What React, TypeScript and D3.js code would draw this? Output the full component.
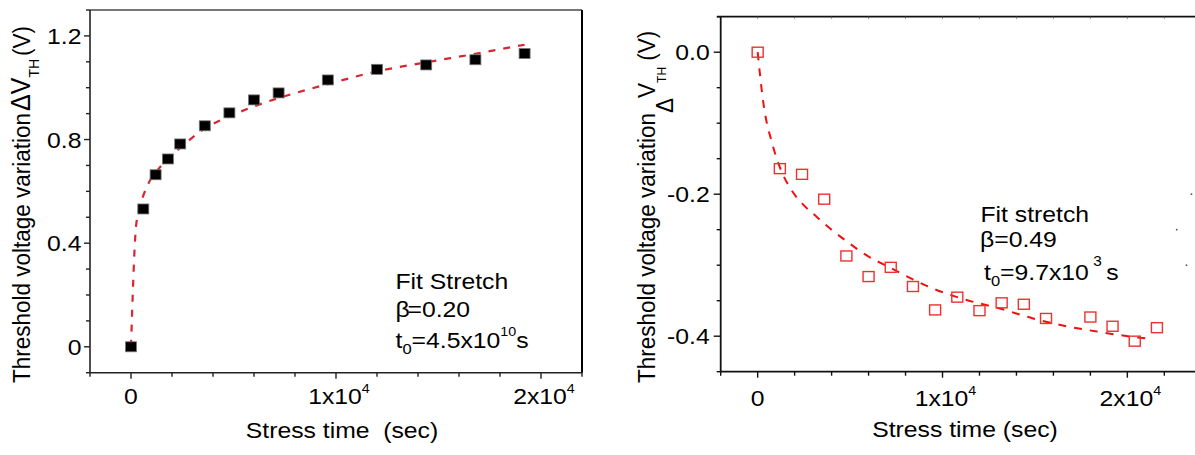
import React from 'react';
import * as d3 from 'd3';

const W = 1195;
const H = 455;
const FONT = '"Liberation Sans", Arial, Helvetica, sans-serif';
const SX = 1.1;
const INK = '#000';

// ---------- Left panel data ----------
const leftTimes = [0, 600, 1200, 1800, 2400, 3600, 4800, 6000, 7200, 9600, 12000, 14400, 16800, 19200];
const leftValues = [0, 0.532, 0.664, 0.725, 0.783, 0.853, 0.903, 0.953, 0.98, 1.03, 1.071, 1.088, 1.108, 1.132];
const leftFitTimes = [0, 240, 400, 650, 900, 1200, 1800, 2400, 3600, 4800, 6000, 7200, 9600, 12000, 14400, 16800, 19200];
const leftFitValues = [0, 0.46, 0.53, 0.594, 0.638, 0.672, 0.727, 0.768, 0.843, 0.889, 0.928, 0.96, 1.014, 1.063, 1.098, 1.131, 1.166];
const leftXTicks = [-2000, 0, 2000, 4000, 6000, 8000, 10000, 12000, 14000, 16000, 18000, 20000, 22000];
const leftXLabelValues = [0, 10000, 20000];
const leftXLabelMantissa = ['0', '1x10', '2x10'];
const leftXLabelExponent = ['', '4', '4'];
const leftYTicks = [-0.1, 0, 0.1, 0.2, 0.3, 0.4, 0.5, 0.6, 0.7, 0.8, 0.9, 1.0, 1.1, 1.2, 1.3];
const leftYLabelValues = [0, 0.4, 0.8, 1.2];
const leftYLabels = ['0', '0.4', '0.8', '1.2'];

// ---------- Right panel data ----------
const rightTimes = [0, 1200, 2400, 3600, 4800, 6000, 7200, 8400, 9600, 10800, 12000, 13200, 14400, 15600, 18000, 19200, 20400, 21600];
const rightValues = [0, -0.164, -0.172, -0.207, -0.287, -0.316, -0.303, -0.33, -0.363, -0.345, -0.364, -0.353, -0.355, -0.375, -0.373, -0.386, -0.407, -0.388];
const rightFitTimes = [0, 300, 800, 1200, 1900, 2400, 3200, 3900, 4900, 5700, 7200, 9500, 11300, 13100, 14900, 16700, 18500, 20300, 21400];
const rightFitValues = [0, -0.07, -0.13, -0.162, -0.197, -0.213, -0.232, -0.248, -0.268, -0.283, -0.304, -0.333, -0.349, -0.361, -0.375, -0.386, -0.394, -0.401, -0.404];
const rightXTicks = [-2000, 0, 2000, 4000, 6000, 8000, 10000, 12000, 14000, 16000, 18000, 20000, 22000];
const rightXLabelValues = [0, 10000, 20000];
const rightXLabelMantissa = ['0', '1x10', '2x10'];
const rightXLabelExponent = ['', '4', '4'];
const rightYTicks = [-0.45, -0.4, -0.35, -0.3, -0.25, -0.2, -0.15, -0.1, -0.05, 0, 0.05];
const rightYLabelValues = [0, -0.2, -0.4];
const rightYLabels = ['0.0', '-0.2', '-0.4'];
const strayTickValues = [-0.2, -0.25, -0.3];
const strayTickTimes = [23470, 22670, 23200];

// ---------- scales ----------
const xL = d3.scaleLinear().domain([-2000, 22000]).range([90, 582]);
const yL = d3.scaleLinear().domain([-0.1, 1.3]).range([372.7, 10]);
const xR = d3.scaleLinear().domain([-2000, 23660]).range([720.7, 1195]);
const yR = d3.scaleLinear().domain([-0.45, 0.05]).range([371.7, 16.7]);

const T = ({ x, y, anchor = 'start', size = 22.5, children, rotate = false }: any) => (
  <g transform={`translate(${x},${y}) scale(${SX},1)${rotate ? ' rotate(-90)' : ''}`}>
    <text x={0} y={0} textAnchor={anchor} fontSize={size} fontFamily={FONT} fill={INK}>
      {children}
    </text>
  </g>
);

export default function App() {
  const leftFitPath = d3
    .line<number>()
    .x((d) => xL(d))
    .y((_, i) => yL(leftFitValues[i]))
    .curve(d3.curveMonotoneX)(leftFitTimes);
  const rightFitPath = d3
    .line<number>()
    .x((d) => xR(d))
    .y((_, i) => yR(rightFitValues[i]))
    .curve(d3.curveMonotoneX)(rightFitTimes);

  const isMajorL = (v: number) => leftYLabelValues.some((m) => Math.abs(m - v) < 1e-9);
  const isMajorR = (v: number) => rightYLabelValues.some((m) => Math.abs(m - v) < 1e-9);
  const isMajorX = (v: number) => v === 0 || v === 10000 || v === 20000;

  const mW = 11;
  const mH = 10;

  return (
    <svg
      width={W}
      height={H}
      viewBox={`0 0 ${W} ${H}`}
      style={{ position: 'absolute', left: 0, top: 0, background: '#fff' }}
    >
      <rect x={0} y={0} width={W} height={H} fill="#fff" />

      {/* ================= LEFT PANEL ================= */}
      <line x1={xL(-2000)} x2={xL(22000)} y1={yL(1.3)} y2={yL(1.3)} stroke="#777" strokeWidth={1.8} />
      <line x1={xL(22000)} x2={xL(22000)} y1={yL(1.3)} y2={yL(-0.1)} stroke="#000" strokeWidth={2} />
      <line x1={xL(-2000)} x2={xL(-2000)} y1={yL(1.3)} y2={yL(-0.1)} stroke="#222" strokeWidth={1.6} />
      <line x1={xL(-2000)} x2={xL(22000)} y1={yL(-0.1)} y2={yL(-0.1)} stroke="#222" strokeWidth={1.6} />
      {leftXTicks.map((t) => (
        <line key={'lxt' + t} x1={xL(t)} x2={xL(t)} y1={yL(-0.1)} y2={yL(-0.1) + (isMajorX(t) ? 6 : 4)} stroke="#222" strokeWidth={1.4} />
      ))}
      {leftYTicks.map((v) => (
        <line key={'lyt' + v} x1={xL(-2000)} x2={xL(-2000) - (isMajorL(v) ? 6 : 4)} y1={yL(v)} y2={yL(v)} stroke="#222" strokeWidth={1.4} />
      ))}
      {leftYLabelValues.map((v, i) => (
        <T key={'lyl' + v} x={xL(-2000) - 8.5} y={yL(v) + 8} anchor="end">
          {leftYLabels[i]}
        </T>
      ))}
      {leftXLabelValues.map((v, i) => (
        <T key={'lxl' + v} x={xL(v) + (i === 0 ? 0 : 3)} y={404} anchor="middle">
          {leftXLabelMantissa[i]}
          {leftXLabelExponent[i] && (
            <tspan fontSize={13} dy={-11}>
              {leftXLabelExponent[i]}
            </tspan>
          )}
        </T>
      ))}
      <T x={342} y={438} anchor="middle">
        Stress time{'\u00A0'} (sec)
      </T>
      <T x={30} y={383} rotate>
        Threshold voltage variation
        <tspan fontSize={25} dx={2}>ΔV</tspan>
        <tspan fontSize={14} dy={8}>TH</tspan>
        <tspan dy={-8} dx={3}>(V)</tspan>
      </T>

      <path d={leftFitPath || ''} fill="none" stroke="#d8262f" strokeWidth={2.2} strokeDasharray="7 8" />
      {leftTimes.map((t, i) => (
        <rect
          key={'ld' + t}
          x={xL(t) - mW / 2}
          y={yL(leftValues[i]) - mH / 2}
          width={mW}
          height={mH}
          fill="#000"
          stroke="#777"
          strokeWidth={0.8}
        />
      ))}
      <T x={395.5} y={288.5}>Fit Stretch</T>
      <T x={395.5} y={317}>
        β<tspan dx={-2}>=0.20</tspan>
      </T>
      <T x={395.5} y={347.5}>
        t<tspan fontSize={15} dy={6}>0</tspan>
        <tspan dy={-6}>=4.5x10</tspan>
        <tspan fontSize={13} dy={-12}>10</tspan>
        <tspan dy={12}>s</tspan>
      </T>

      {/* ================= RIGHT PANEL ================= */}
      <line x1={717} x2={W} y1={yR(0.05)} y2={yR(0.05)} stroke="#111" strokeWidth={1.8} />
      {rightXTicks.map((t) => (
        <line key={'rtt' + t} x1={xR(t)} x2={xR(t)} y1={yR(0.05)} y2={yR(0.05) + 2} stroke="#666" strokeWidth={1} />
      ))}
      <line x1={xR(-2000)} x2={xR(-2000)} y1={yR(0.05)} y2={yR(-0.45)} stroke="#111" strokeWidth={1.8} />
      <line x1={xR(-2000)} x2={W} y1={yR(-0.45)} y2={yR(-0.45)} stroke="#111" strokeWidth={1.8} />
      {rightXTicks.map((t) => (
        <line key={'rxt' + t} x1={xR(t)} x2={xR(t)} y1={yR(-0.45)} y2={yR(-0.45) + (isMajorX(t) ? 6 : 4)} stroke="#111" strokeWidth={1.4} />
      ))}
      {rightYTicks.map((v) => (
        <line key={'ryt' + v} x1={xR(-2000)} x2={xR(-2000) - (isMajorR(v) ? 7 : 4)} y1={yR(v)} y2={yR(v)} stroke="#111" strokeWidth={1.4} />
      ))}
      {strayTickValues.map((v, i) => (
        <circle key={'st' + i} cx={xR(strayTickTimes[i])} cy={yR(v)} r={0.9} fill="#555" />
      ))}
      {rightYLabelValues.map((v, i) => (
        <T key={'ryl' + v} x={xR(-2000) - 11} y={yR(v) + 8} anchor="end">
          {rightYLabels[i]}
        </T>
      ))}
      {rightXLabelValues.map((v, i) => (
        <T key={'rxl' + v} x={xR(v) + (i === 0 ? 0 : 3)} y={406} anchor="middle">
          {rightXLabelMantissa[i]}
          {rightXLabelExponent[i] && (
            <tspan fontSize={13} dy={-11}>
              {rightXLabelExponent[i]}
            </tspan>
          )}
        </T>
      ))}
      <T x={965} y={437} anchor="middle">
        Stress time (sec)
      </T>
      <T x={655} y={383} rotate>
        Threshold voltage variation
        <tspan dy={16}>Δ</tspan>
        <tspan dy={-16}>V</tspan>
        <tspan fontSize={12} dy={10}>TH</tspan>
        <tspan dy={-10}> (V)</tspan>
      </T>

      <path d={rightFitPath || ''} fill="none" stroke="#f01010" strokeWidth={2} strokeDasharray="8 8" />
      {rightTimes.map((t, i) => (
        <rect
          key={'rd' + t}
          x={xR(t) - mW / 2}
          y={yR(rightValues[i]) - mH / 2}
          width={mW}
          height={mH}
          fill="none"
          stroke="#f03030"
          strokeWidth={1.4}
        />
      ))}
      <T x={980.5} y={221.5}>Fit stretch</T>
      <T x={980} y={246.5}>β=0.49</T>
      <T x={984} y={280}>
        t<tspan fontSize={15} dy={6}>0</tspan>
        <tspan dy={-6}>=9.7x10</tspan>
        <tspan fontSize={14} dy={-14} dx={4}>3</tspan>
        <tspan dy={14} dx={4}>s</tspan>
      </T>
    </svg>
  );
}
